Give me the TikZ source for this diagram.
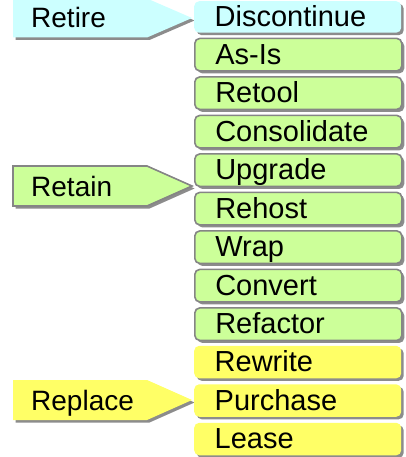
\documentclass[tikz,border=0pt]{standalone}
\usepackage{fontspec}
\setmainfont{Liberation Sans}
\usetikzlibrary{shadows}

\definecolor{retirecyan}{HTML}{CCFFFF}
\definecolor{retaingreen}{HTML}{CCFF99}
\definecolor{replaceyellow}{HTML}{FFFF66}
\definecolor{edgegrey}{HTML}{858585}
\definecolor{shadowgrey}{HTML}{8C8C8C}

\tikzset{
  optionbox/.style={rectangle, rounded corners=5pt, anchor=north west,
    minimum width=207pt, minimum height=32.5pt, inner xsep=20.5pt, inner ysep=0pt,
    text width=166pt, align=left, text height=19.5pt, text depth=0pt,
    font=\fontsize{29}{33}\selectfont,
    drop shadow={opacity=1, fill=shadowgrey, shadow xshift=2.5pt, shadow yshift=-2.5pt}},
  plainbox/.style={optionbox, draw=none},
  greenbox/.style={optionbox, fill=retaingreen, draw=edgegrey, line width=1.6pt},
  arrowlabel/.style={anchor=base west, inner sep=0pt, font=\fontsize{28}{32}\selectfont},
  pentshadow/.style={fill=shadowgrey},
}

\begin{document}
\begin{tikzpicture}[x=1pt, y=-1pt]
\useasboundingbox (0,0) rectangle (405,457);

% category arrows: shadow first, then the body
\fill[pentshadow] (15.5,1) -- (149.5,1) -- (194.5,20.5) -- (149.5,40) -- (15.5,40) -- cycle;
\fill[retirecyan] (13,-1.5) -- (147,-1.5) -- (192,18) -- (147,37.5) -- (13,37.5) -- cycle;
\node[arrowlabel] (retire) at (31,27.5) {Retire};

\fill[pentshadow] (15.5,168.5) -- (149.5,168.5) -- (194.5,188.5) -- (149.5,208.5) -- (15.5,208.5) -- cycle;
\filldraw[fill=retaingreen, draw=edgegrey, line width=1.6pt] (13,166) -- (147,166) -- (192,186) -- (147,206) -- (13,206) -- cycle;
\node[arrowlabel] (retain) at (31,196) {Retain};

\fill[pentshadow] (15.5,382.5) -- (149.5,382.5) -- (194.5,402.5) -- (149.5,422.5) -- (15.5,422.5) -- cycle;
\fill[replaceyellow] (13,380) -- (147,380) -- (192,400) -- (147,420) -- (13,420) -- cycle;
\node[arrowlabel] (replace) at (31,410) {Replace};

% option boxes
\node[plainbox, fill=retirecyan, minimum height=31.5pt] (discontinue) at (194,1) {Discontinue};
\node[greenbox] (asis) at (194,37.6) {As-Is};
\node[greenbox] (retool) at (194,76.1) {Retool};
\node[greenbox] (consolidate) at (194,114.6) {Consolidate};
\node[greenbox] (upgrade) at (194,153.1) {Upgrade};
\node[greenbox] (rehost) at (194,191.6) {Rehost};
\node[greenbox] (wrap) at (194,230.1) {Wrap};
\node[greenbox] (convert) at (194,268.6) {Convert};
\node[greenbox] (refactor) at (194,307.1) {Refactor};
\node[plainbox, fill=replaceyellow] (rewrite) at (194,345.6) {Rewrite};
\node[plainbox, fill=replaceyellow] (purchase) at (194,384.1) {Purchase};
\node[plainbox, fill=replaceyellow] (lease) at (194,422.6) {Lease};
\end{tikzpicture}
\end{document}
